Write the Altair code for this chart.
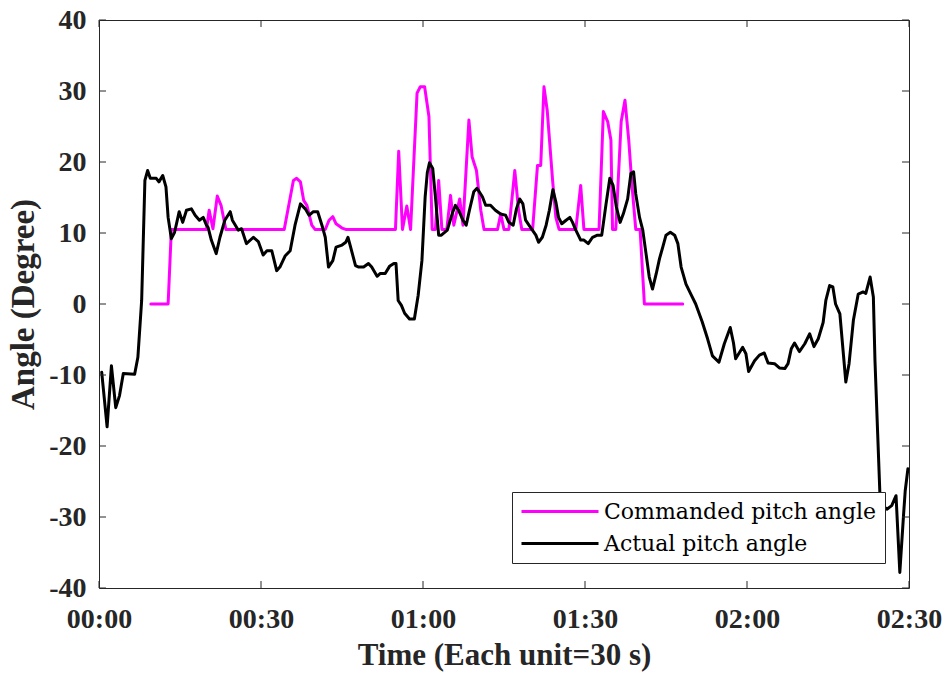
import altair as alt
import pandas as pd

# Commanded pitch angle (time in s, angle in degrees)
cmd_t = [9.6, 12.8, 13.4, 19.9, 20.4, 21.1, 21.9, 22.6, 23.5, 34.3, 36.0, 36.6, 37.3,
         37.9, 38.5, 39.4, 40.0, 41.9, 42.6, 43.3, 43.9, 45.0, 45.7, 54.9, 55.5, 56.2,
         57.0, 57.7, 58.9, 59.5, 60.3, 61.1, 61.7, 62.3, 62.9, 63.5, 64.4, 65.1, 65.7,
         66.8, 67.4, 68.5, 69.1, 69.9, 70.7, 71.3, 73.8, 74.4, 75.0, 75.9, 77.0, 77.7,
         78.3, 80.3, 81.2, 81.8, 82.4, 83.0, 84.0, 84.6, 85.2, 88.3, 89.2, 89.8, 92.6,
         93.4, 94.2, 94.8, 95.1, 95.7, 96.7, 97.4, 98.1, 98.7, 99.4, 100.2, 101.0, 108.1]
cmd_v = [0, 0, 10.5, 10.5, 13.2, 10.6, 15.2, 13.9, 10.5, 10.5, 17.4, 17.7, 17.2,
         14.6, 13.9, 11.1, 10.5, 10.5, 11.8, 12.3, 11.3, 10.7, 10.5, 10.5, 21.5, 10.5,
         13.8, 10.5, 29.7, 30.6, 30.6, 26.4, 10.5, 10.5, 17.4, 10.5, 10.5, 15.3, 11.1,
         14.8, 11.1, 25.9, 20.7, 18.8, 13.2, 10.5, 10.5, 12.7, 10.5, 10.5, 18.8, 13.2,
         10.5, 10.5, 19.5, 19.5, 30.6, 27.3, 17.4, 12.2, 10.5, 10.5, 16.7, 10.5, 10.5,
         27.1, 25.7, 23.1, 10.5, 10.5, 25.7, 28.7, 23.1, 16.7, 10.5, 10.5, 0, 0]

# Actual pitch angle
act_t = [0.5, 1.5, 2.3, 3.1, 3.8, 4.5, 6.6, 7.2, 7.9, 8.5, 9.0, 9.5, 10.6, 11.1, 11.8,
         12.4, 12.8, 13.4, 14.0, 14.85, 15.5, 16.2, 17.1, 17.8, 18.6, 19.3, 19.9, 20.2,
         20.8, 21.7, 22.4, 23.3, 24.3, 24.7, 25.8, 26.4, 27.3, 28.6, 29.5, 30.4, 31.1,
         32.0, 32.9, 33.5, 34.5, 35.4, 36.3, 37.3, 38.2, 38.9, 39.7, 40.5, 41.4, 41.9,
         42.5, 43.3, 43.9, 45.0, 45.7, 46.1, 46.5, 47.5, 48.1, 49.0, 49.9, 50.5, 51.5,
         52.1, 53.0, 53.8, 54.6, 55.0, 55.4, 56.0, 56.6, 57.5, 58.4, 59.1, 59.8, 60.4,
         60.8, 61.2, 61.8, 62.3, 62.9, 63.4, 64.5, 65.4, 66.0, 66.6, 67.4, 68.0, 68.6,
         69.4, 70.0, 71.0, 71.6, 72.5, 73.4, 74.3, 75.3, 75.9, 76.7, 77.3, 77.9, 78.5,
         79.0, 79.9, 80.9, 81.4, 82.1, 82.8, 83.4, 84.05, 84.6, 85.1, 85.7, 86.5, 87.2,
         87.7, 88.3, 89.2, 89.8, 90.6, 91.4, 92.3, 93.1, 93.9, 94.6, 95.2, 95.8, 96.5,
         97.1, 97.9, 98.5, 99.0, 99.4, 100.1, 100.7, 101.3, 101.9, 102.5, 103.2, 103.8,
         104.4, 105.0, 105.8, 106.6, 107.2, 107.8, 108.7, 109.6, 110.5, 111.7, 112.7,
         113.6, 114.8, 115.8, 116.9, 117.5, 117.9, 119.2, 119.8, 120.3, 121.4, 122.3,
         123.2, 123.9, 125.1, 126.0, 127.0, 127.6, 128.2, 128.8, 129.7, 130.7, 131.6,
         132.4, 133.2, 134.1, 134.6, 135.3, 135.9, 136.4, 137.2, 138.3, 138.9, 139.7,
         140.6, 141.5, 142.0, 142.8, 143.4, 143.7, 144.2, 144.6, 145.3, 145.9, 146.8,
         147.6, 148.3, 149.0, 149.3, 149.8]
act_v = [-9.6, -17.3, -8.7, -14.6, -12.9, -9.8, -9.9, -7.5, 0.5, 17.4, 18.8, 17.7, 17.7,
         17.2, 18.1, 16.5, 12.2, 9.2, 10.1, 13.0, 11.5, 13.2, 13.4, 12.5, 11.8, 12.2, 11.1,
         10.8, 9.0, 7.1, 9.4, 11.8, 13.0, 11.8, 10.4, 10.6, 8.5, 9.4, 8.8, 6.9, 7.5, 7.5,
         4.7, 5.2, 6.8, 7.5, 11.1, 14.1, 13.4, 12.5, 13.0, 13.0, 10.8, 9.4, 5.2, 6.1, 8.0,
         8.3, 8.7, 9.4, 8.3, 5.4, 5.2, 5.2, 5.7, 5.2, 3.9, 4.3, 4.3, 5.3, 5.7, 5.7, 0.5,
         -0.2, -1.3, -2.1, -2.1, 1.2, 6.1, 15.1, 18.5, 19.9, 19.1, 15.1, 9.7, 9.7, 10.4,
         12.7, 13.9, 13.2, 11.8, 11.1, 13.2, 15.8, 16.3, 15.1, 13.9, 13.9, 13.2, 12.7,
         12.5, 11.5, 11.1, 13.4, 14.8, 14.1, 11.8, 10.8, 9.7, 8.7, 9.4, 11.1, 13.2, 16.1,
         14.4, 12.2, 11.3, 11.8, 12.2, 11.5, 10.4, 9.0, 9.0, 8.5, 9.4, 9.7, 9.7, 14.1,
         17.7, 16.7, 13.7, 11.5, 12.7, 14.8, 18.4, 18.6, 15.5, 12.2, 10.4, 7.1, 3.8, 2.1,
         4.3, 6.4, 8.0, 9.7, 10.1, 9.7, 8.5, 5.2, 2.8, 1.4, 0.0, -2.5, -4.9, -7.3, -8.2,
         -5.6, -3.3, -5.5, -7.7, -6.1, -7.0, -9.5, -8.0, -7.2, -6.9, -8.3, -8.4, -9.0,
         -9.1, -8.4, -6.3, -5.5, -6.7, -5.6, -4.2, -6.0, -4.9, -2.6, 0.5, 2.6, 2.4, 0.0,
         -1.4, -11.0, -8.4, -2.3, 1.4, 1.7, 1.5, 3.8, 1.0, -8.0, -18.3, -26.5, -28.5,
         -28.9, -28.4, -27.0, -37.8, -29.6, -26.3, -23.2]

x_ticks = [0, 30, 60, 90, 120, 150]
x_tick_labels = ["00:00", "00:30", "01:00", "01:30", "02:00", "02:30"]
y_ticks = [-40, -30, -20, -10, 0, 10, 20, 30, 40]

series_names = ["Commanded pitch angle", "Actual pitch angle"]
series_colors = ["#FF00FF", "#000000"]

W, H = 810, 568
TICK_LEN = 7
AXIS_COLOR = "#262626"
TICK_FONT = "Liberation Serif"

cmd_df = pd.DataFrame({"t": cmd_t, "v": cmd_v, "series": series_names[0]})
act_df = pd.DataFrame({"t": act_t, "v": act_v, "series": series_names[1]})
xt_df = pd.DataFrame({"t": x_ticks})
yt_df = pd.DataFrame({"v": y_ticks})

x_scale = alt.Scale(domain=[0, 150], nice=False, zero=False)
y_scale = alt.Scale(domain=[-40, 40], nice=False, zero=False)

label_list = "[" + ",".join(f"'{s}'" for s in x_tick_labels) + "]"
value_list = "[" + ",".join(str(v) for v in x_ticks) + "]"

x_axis = alt.Axis(
    values=x_ticks,
    labelExpr=f"{label_list}[indexof({value_list}, datum.value)]",
    title="Time (Each unit=30 s)",
    grid=False, domain=False, ticks=False,
    labelFont=TICK_FONT, labelFontSize=28, labelFontWeight="bold", labelColor="#262626",
    labelPadding=17, labelFlush=False,
    titleFont=TICK_FONT, titleFontSize=31, titleFontWeight="bold", titleColor="#262626",
    titlePadding=7,
)
y_axis = alt.Axis(
    values=y_ticks,
    labelExpr="'' + datum.value",
    title="Angle (Degree)",
    grid=False, domain=False, ticks=False,
    labelFont=TICK_FONT, labelFontSize=28, labelFontWeight="bold", labelColor="#262626",
    labelPadding=13, labelFlush=False,
    titleFont=TICK_FONT, titleFontSize=33, titleFontWeight="bold", titleColor="#262626",
    titlePadding=8,
)

color_scale = alt.Scale(domain=series_names, range=series_colors)
legend = alt.Legend(
    title=None, orient="none", legendX=413, legendY=472,
    fillColor="white", strokeColor=AXIS_COLOR, padding=8, cornerRadius=0,
    symbolType="M-1,0L6.7,0", symbolSize=400, symbolStrokeWidth=3,
    labelFont="DejaVu Serif", labelFontSize=22, labelColor="black",
    labelOffset=61, rowPadding=9, labelLimit=400,
)

line_style = dict(strokeWidth=3, strokeJoin="round", strokeCap="round")
X = alt.X("t:Q", scale=x_scale, axis=x_axis)
Y = alt.Y("v:Q", scale=y_scale, axis=y_axis)

cmd_line = alt.Chart(cmd_df).mark_line(**line_style).encode(
    x=X, y=Y, color=alt.Color("series:N", scale=color_scale, legend=legend),
)
act_line = alt.Chart(act_df).mark_line(**line_style).encode(
    x=X, y=Y, color=alt.Color("series:N", scale=color_scale, legend=legend),
)

# Inward-pointing ticks on all four sides of the box
tick_style = dict(color=AXIS_COLOR, strokeWidth=1)
x_bottom = alt.Chart(xt_df).mark_rule(**tick_style).encode(
    x=X, y=alt.value(H), y2=alt.value(H - TICK_LEN))
x_top = alt.Chart(xt_df).mark_rule(**tick_style).encode(
    x=X, y=alt.value(0), y2=alt.value(TICK_LEN))
y_left = alt.Chart(yt_df).mark_rule(**tick_style).encode(
    y=Y, x=alt.value(0), x2=alt.value(TICK_LEN))
y_right = alt.Chart(yt_df).mark_rule(**tick_style).encode(
    y=Y, x=alt.value(W), x2=alt.value(W - TICK_LEN))

chart = alt.layer(cmd_line, act_line, x_bottom, x_top, y_left, y_right).properties(
    width=W, height=H,
    autosize=alt.AutoSizeParams(type="none"),
    padding={"left": 99, "top": 20, "right": 40, "bottom": 87},
    background="white",
).configure_view(
    stroke=AXIS_COLOR, strokeWidth=1
)

chart.save("out.html", embed_options={"renderer": "svg", "actions": False})
